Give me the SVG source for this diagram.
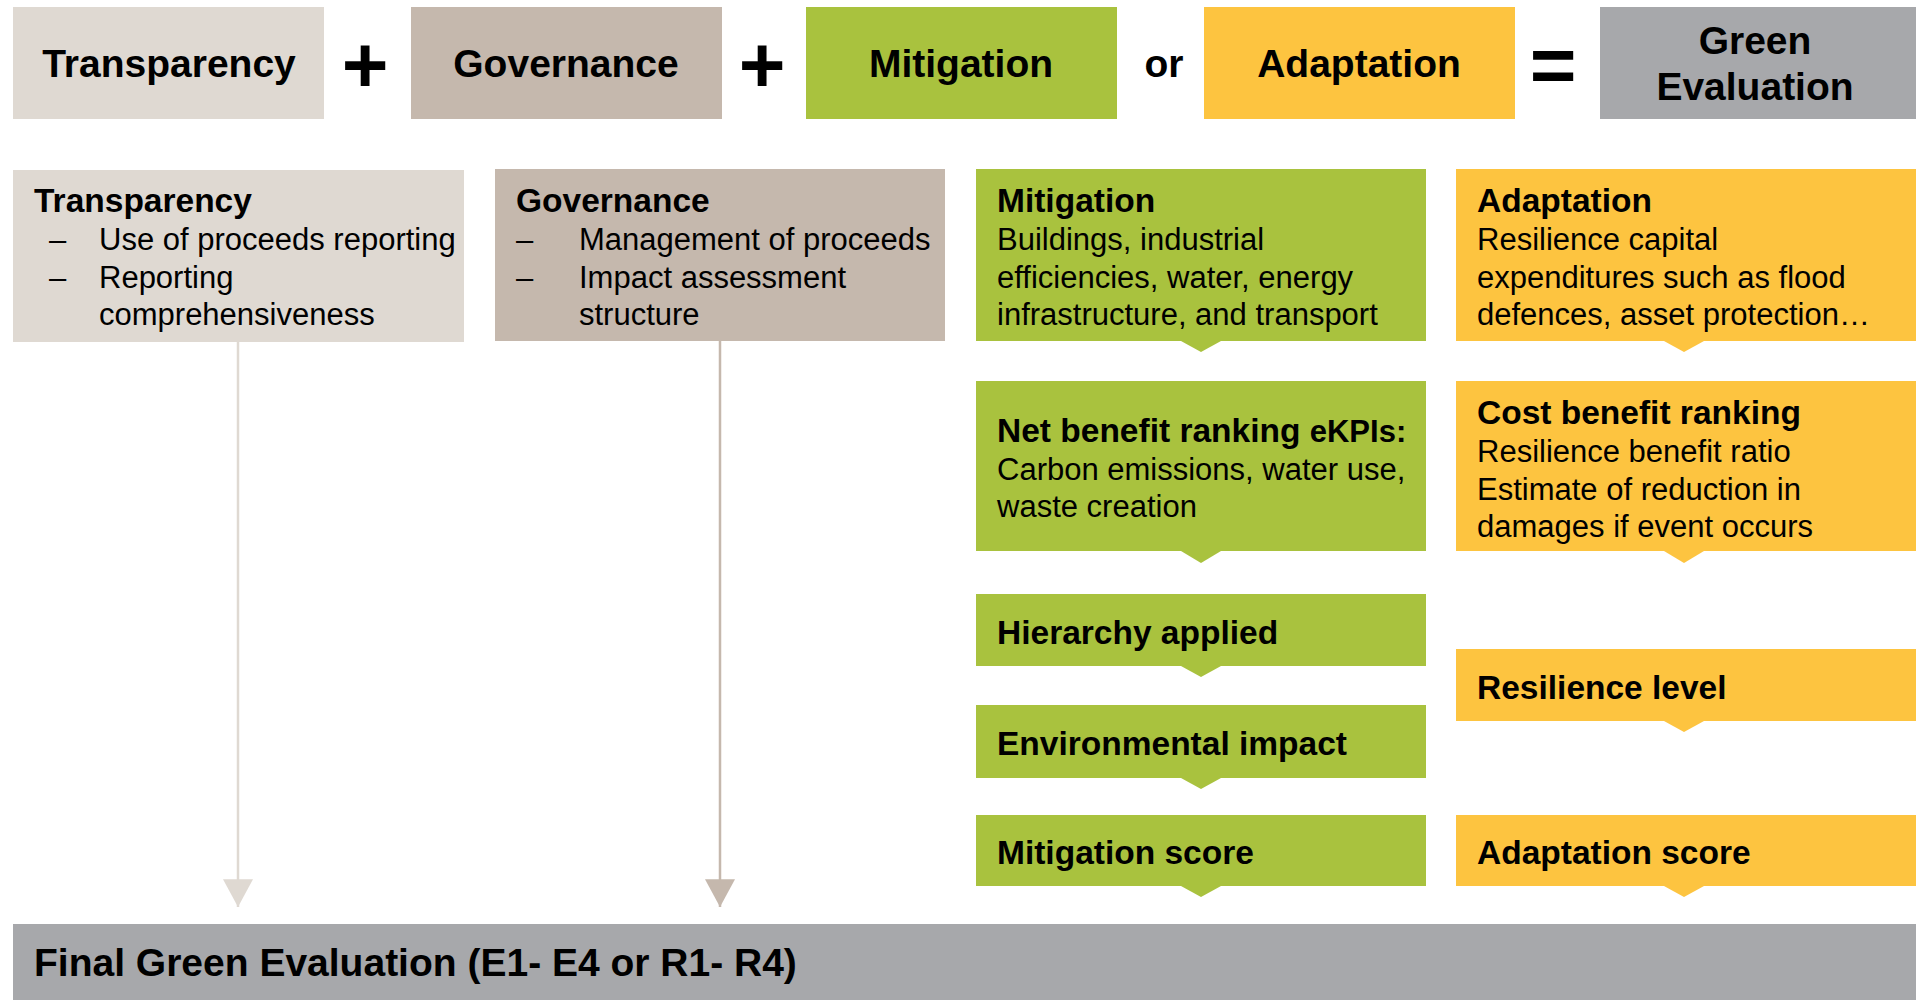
<svg xmlns="http://www.w3.org/2000/svg" width="1916" height="1000" viewBox="0 0 1916 1000">
<style>
text{font-family:"Liberation Sans",Arial,sans-serif;fill:#000}
.h{font-size:39px;font-weight:bold}
.hc{font-size:39px;font-weight:bold;text-anchor:middle}
.op{font-size:80px;font-weight:bold;text-anchor:middle}
.t{font-size:33.5px;font-weight:bold}
.b{font-size:31px}
.tr{fill:#dfd9d2}.gv{fill:#c5b8ad}.mi{fill:#a9c23e}.ad{fill:#fdc440}.gr{fill:#a7a8ab}
</style>
<defs>
<marker id="ahT" markerUnits="userSpaceOnUse" markerWidth="28" markerHeight="30" viewBox="0 0 26 28" refX="26" refY="14" orient="auto"><path d="M0,0 L26,14 L0,28 Z" fill="#dfd9d2"/></marker>
<marker id="ahG" markerUnits="userSpaceOnUse" markerWidth="28" markerHeight="30" viewBox="0 0 26 28" refX="26" refY="14" orient="auto"><path d="M0,0 L26,14 L0,28 Z" fill="#c5b8ad"/></marker>
</defs>

<g id="top-transparency"><rect class="tr" x="13" y="7" width="311" height="112"/><text class="hc" x="169" y="77">Transparency</text></g>
<text class="op" x="365" y="92">+</text>
<g id="top-governance"><rect class="gv" x="411" y="7" width="311" height="112"/><text class="hc" x="566" y="77">Governance</text></g>
<text class="op" x="762" y="92">+</text>
<g id="top-mitigation"><rect class="mi" x="806" y="7" width="311" height="112"/><text class="hc" x="961" y="77">Mitigation</text></g>
<text class="hc" x="1164" y="77">or</text>
<g id="top-adaptation"><rect class="ad" x="1204" y="7" width="311" height="112"/><text class="hc" x="1359" y="77">Adaptation</text></g>
<text class="op" x="1553" y="92">=</text>
<g id="top-green"><rect class="gr" x="1600" y="7" width="316" height="112"/><text class="hc" x="1755" y="54">Green</text><text class="hc" x="1755" y="100">Evaluation</text></g>

<g id="transparency">
<rect class="tr" x="13" y="170" width="451" height="172"/>
<text class="t" x="34" y="212">Transparency</text>
<text class="b" x="49" y="250">–</text><text class="b" x="99" y="250">Use of proceeds reporting</text>
<text class="b" x="49" y="287.5">–</text><text class="b" x="99" y="287.5">Reporting</text>
<text class="b" x="99" y="325">comprehensiveness</text>
</g>

<g id="governance">
<rect class="gv" x="495" y="169" width="450" height="172"/>
<text class="t" x="516" y="212">Governance</text>
<text class="b" x="516" y="250">–</text><text class="b" x="579" y="250">Management of proceeds</text>
<text class="b" x="516" y="287.5">–</text><text class="b" x="579" y="287.5">Impact assessment</text>
<text class="b" x="579" y="325">structure</text>
</g>

<g id="mitigation">
<rect class="mi" x="976" y="169" width="450" height="172"/>
<path class="mi" d="M1181,341 L1221,341 L1201,352 Z"/>
<text class="t" x="997" y="212">Mitigation</text>
<text class="b" x="997" y="250">Buildings, industrial</text>
<text class="b" x="997" y="287.5">efficiencies, water, energy</text>
<text class="b" x="997" y="325">infrastructure, and transport</text>
</g>

<g id="adaptation">
<rect class="ad" x="1456" y="169" width="460" height="172"/>
<path class="ad" d="M1664,341 L1704,341 L1684,352 Z"/>
<text class="t" x="1477" y="212">Adaptation</text>
<text class="b" x="1477" y="250">Resilience capital</text>
<text class="b" x="1477" y="287.5">expenditures such as flood</text>
<text class="b" x="1477" y="325">defences, asset protection…</text>
</g>

<g id="net-benefit">
<rect class="mi" x="976" y="381" width="450" height="170"/>
<path class="mi" d="M1181,551 L1221,551 L1201,563 Z"/>
<text class="t" x="997" y="442">Net benefit ranking <tspan style="font-size:31px">eKPIs:</tspan></text>
<text class="b" x="997" y="480">Carbon emissions, water use,</text>
<text class="b" x="997" y="517">waste creation</text>
</g>

<g id="cost-benefit">
<rect class="ad" x="1456" y="381" width="460" height="170"/>
<path class="ad" d="M1664,551 L1704,551 L1684,563 Z"/>
<text class="t" x="1477" y="424">Cost benefit ranking</text>
<text class="b" x="1477" y="462">Resilience benefit ratio</text>
<text class="b" x="1477" y="499.5">Estimate of reduction in</text>
<text class="b" x="1477" y="537">damages if event occurs</text>
</g>

<g id="hierarchy">
<rect class="mi" x="976" y="594" width="450" height="72"/>
<path class="mi" d="M1181,666 L1221,666 L1201,677 Z"/>
<text class="t" x="997" y="644">Hierarchy applied</text>
</g>

<g id="environmental">
<rect class="mi" x="976" y="705" width="450" height="73"/>
<path class="mi" d="M1181,778 L1221,778 L1201,789 Z"/>
<text class="t" x="997" y="755">Environmental impact</text>
</g>

<g id="mitigation-score">
<rect class="mi" x="976" y="815" width="450" height="71"/>
<path class="mi" d="M1181,886 L1221,886 L1201,897 Z"/>
<text class="t" x="997" y="864">Mitigation score</text>
</g>

<g id="resilience-level">
<rect class="ad" x="1456" y="649" width="460" height="72"/>
<path class="ad" d="M1664,721 L1704,721 L1684,732 Z"/>
<text class="t" x="1477" y="699">Resilience level</text>
</g>

<g id="adaptation-score">
<rect class="ad" x="1456" y="815" width="460" height="71"/>
<path class="ad" d="M1664,886 L1704,886 L1684,897 Z"/>
<text class="t" x="1477" y="864">Adaptation score</text>
</g>

<g id="final">
<rect class="gr" x="13" y="924" width="1903" height="76"/>
<text class="h" x="34" y="976">Final Green Evaluation (E1- E4 or R1- R4)</text>
</g>

<g id="connectors" fill="none" stroke-width="2.5">
<line x1="238" y1="342" x2="238" y2="907" stroke="#dfd9d2" marker-end="url(#ahT)"/>
<line x1="720" y1="341" x2="720" y2="907" stroke="#c5b8ad" marker-end="url(#ahG)"/>
</g>
</svg>
